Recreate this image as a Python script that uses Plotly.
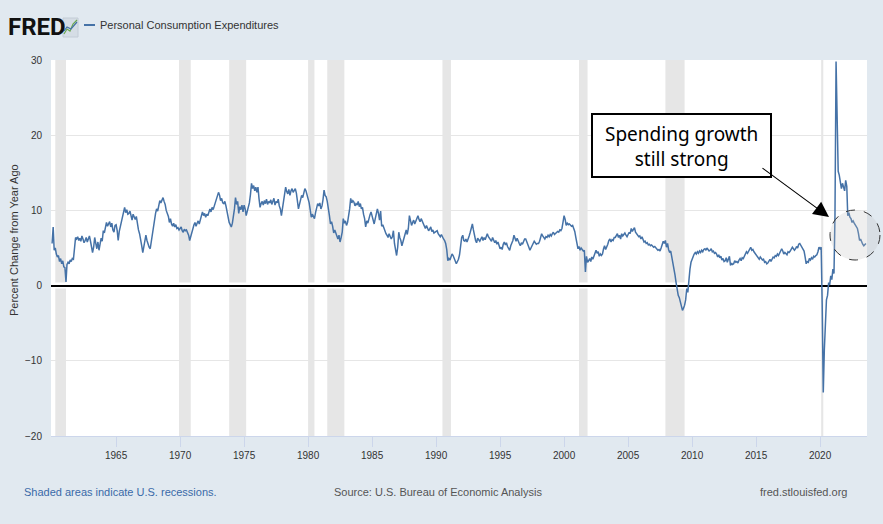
import pandas as pd
import plotly.graph_objects as go

# PCE, percent change from year ago, monthly
pce_1960s = [
    5.6, 7.8, 4.7, 5.0, 4.2, 3.8, 4.0, 3.2, 3.6, 2.9, 3.3, 2.5,
    2.4, 0.5, 2.8, 3.1, 2.9, 3.4, 3.2, 3.6, 3.5, 4.8, 6.4, 6.2,
    6.5, 6.0, 6.3, 5.9, 6.6, 6.2, 5.7, 6.0, 6.4, 5.8, 6.1, 6.6,
    5.9, 5.2, 4.4, 5.1, 6.4, 5.6, 4.9, 5.8, 4.7, 5.5, 6.3, 5.9,
    7.3, 7.0, 7.6, 8.4, 7.9, 8.2, 8.5, 7.8, 8.3, 7.4, 7.1, 8.0,
    8.1, 7.3, 6.0, 7.2, 7.8, 8.6, 8.9, 9.4, 10.4, 9.7, 10.1, 9.5,
    9.6, 9.9, 9.3, 8.7, 9.5, 9.0, 8.8, 9.2, 7.9, 7.4, 6.9, 6.3,
    5.3, 4.4, 5.0, 5.6, 6.7, 6.0, 5.4, 5.1, 4.9, 5.8, 7.0, 8.2,
    9.1, 9.6, 10.2, 9.9, 10.6, 11.3, 11.0, 11.5, 11.7, 11.2, 10.8, 10.0,
    9.7, 9.2, 8.4, 8.9, 8.2, 7.9, 8.3, 7.8, 8.1, 7.6, 7.7, 7.4,
]
pce_1970s = [
    7.6, 7.8, 7.3, 7.1, 7.5, 7.3, 7.4, 7.0, 6.7, 6.0, 6.6, 7.2,
    7.8, 8.1, 8.4, 7.9, 8.3, 8.6, 8.2, 8.9, 9.4, 9.8, 9.3, 9.6,
    9.1, 9.5, 9.3, 9.9, 10.2, 9.8, 10.4, 10.1, 10.6, 10.9, 11.4, 11.8,
    12.4, 12.0, 11.3, 11.6, 11.0, 10.9, 11.2, 10.6, 9.8, 9.0, 8.4, 8.1,
    7.8, 8.3, 9.1, 10.2, 11.7, 10.8, 11.2, 9.6, 10.5, 10.1, 10.7, 9.8,
    10.7, 10.2, 9.3, 9.8, 10.4, 11.0, 12.1, 13.6, 12.9, 13.3, 12.6, 13.1,
    12.4, 13.1, 11.6, 10.4, 10.9, 11.2, 10.7, 11.3, 10.9, 11.5, 10.8, 11.2,
    11.0, 11.4, 10.8, 11.1, 11.6, 10.7, 11.2, 11.0, 11.5, 10.6, 10.2, 9.3,
    10.4, 11.2, 12.3, 13.1, 12.5, 12.2, 12.8, 12.0, 12.6, 12.9, 12.4, 12.7,
    12.9, 12.3, 11.2, 10.2, 10.8, 11.5, 12.0, 11.7, 12.4, 12.9, 12.6, 12.1,
]
pce_1980s = [
    11.3, 11.0, 10.1, 9.1, 9.5, 9.2, 8.9, 9.7, 10.4, 10.9, 10.6, 11.0,
    10.2, 10.6, 11.4, 12.7, 12.0, 11.8, 11.2, 10.4, 9.3, 8.2, 8.5, 7.9,
    7.0, 7.4, 6.9, 6.5, 6.2, 6.7, 5.8, 6.4, 7.1, 8.9, 8.3, 8.6,
    8.0, 8.4, 9.1, 10.2, 11.6, 11.0, 11.3, 11.1, 10.6, 10.9, 10.7, 11.2,
    10.5, 10.9, 10.2, 10.4, 9.5, 8.9, 7.8, 8.6, 8.3, 9.1, 9.4, 9.8,
    9.3, 8.6, 8.2, 8.9, 9.5, 10.2, 9.6, 8.7, 9.9, 7.9, 8.1, 7.6,
    7.4, 6.9, 6.7, 6.4, 6.9, 6.6, 6.2, 6.5, 7.3, 5.6, 4.8, 4.0,
    5.1, 7.1, 6.4, 6.0, 5.3, 5.8, 6.2, 6.9, 7.4, 6.8, 7.6, 9.3,
    8.8, 8.0, 8.4, 8.7, 8.2, 8.6, 8.9, 9.3, 8.8, 8.5, 8.9, 8.6,
    8.2, 7.9, 7.6, 8.0, 7.7, 7.3, 7.5, 7.8, 7.2, 7.4, 7.0, 7.1,
]
pce_1990s = [
    7.1, 7.3, 6.9, 6.7, 6.5, 6.8, 6.4, 6.2, 6.0, 5.6, 4.8, 3.3,
    3.6, 3.4, 3.8, 4.2, 4.0, 3.7, 3.4, 2.9, 3.2, 3.5, 4.1, 5.2,
    6.4, 6.7, 6.0, 5.9, 6.2, 5.8, 6.4, 6.6, 7.1, 7.5, 8.2, 7.4,
    6.4, 6.0, 5.7, 6.3, 6.1, 5.9, 6.2, 6.5, 6.0, 6.4, 6.1, 6.7,
    6.9, 6.5, 6.3, 6.0, 5.9, 6.4, 6.1, 5.7, 6.0, 5.5, 5.8, 5.2,
    4.9, 5.1, 4.8, 5.5, 5.8, 5.4, 5.7, 5.2, 5.0, 4.7, 5.3, 5.6,
    6.0, 6.7, 6.2, 5.9, 6.3, 5.8, 5.6, 5.3, 5.7, 5.5, 6.0, 6.2,
    6.2, 5.9, 5.6, 5.1, 4.7, 5.0, 5.4, 5.6, 5.9, 5.7, 5.5, 5.6,
    5.6, 5.9, 6.3, 6.9, 6.6, 6.4, 6.2, 6.5, 6.4, 6.7, 6.5, 6.8,
    6.6, 6.9, 7.1, 6.8, 6.9, 7.0, 7.2, 7.1, 7.4, 7.3, 7.6, 8.4,
]
pce_2000s = [
    9.3, 8.8, 8.0, 8.3, 8.1, 8.2, 8.0, 7.9, 8.0, 7.6, 7.2, 6.4,
    5.8, 4.9, 5.2, 4.7, 5.0, 4.8, 4.6, 4.7, 1.8, 3.9, 3.1, 3.3,
    3.6, 3.2, 3.8, 3.5, 3.9, 4.1, 4.7, 4.3, 4.5, 3.9, 4.2, 4.0,
    4.2, 4.9, 5.3, 4.8, 5.1, 5.5, 6.0, 6.2, 5.8, 6.1, 6.0, 6.4,
    6.4, 6.6, 6.9, 6.4, 6.7, 6.2, 6.9, 6.6, 6.8, 7.0, 6.7, 6.5,
    6.8, 7.1, 6.9, 7.6, 7.2, 7.4, 7.7, 7.1, 6.9, 6.7, 6.5, 6.6,
    6.2, 6.5, 6.0, 5.8, 5.9, 5.6, 5.7, 5.4, 5.5, 5.3, 5.4, 5.3,
    5.1, 5.2, 5.0, 4.9, 4.7, 4.8, 4.6, 5.0, 5.4, 5.9, 5.6, 6.0,
    5.1, 5.6, 4.8, 4.4, 4.6, 3.9, 3.1, 2.2, 1.4, 0.4, -0.5, -1.3,
    -1.6, -2.3, -2.9, -3.3, -3.0, -2.6, -1.9, -0.4, -0.9, 1.2, 2.2, 3.1,
]
pce_2010s = [
    3.6, 3.9, 4.2, 4.4, 4.2, 4.5, 4.3, 4.6, 4.4, 4.7, 4.5, 4.8,
    4.9, 4.7, 5.0, 4.8, 4.6, 4.7, 4.9, 4.5, 4.6, 4.3, 4.4, 4.2,
    3.8, 4.1, 3.7, 3.9, 3.4, 3.6, 3.2, 3.3, 3.7, 3.1, 3.4, 3.9,
    2.7, 3.0, 2.8, 2.9, 3.3, 3.1, 3.2, 3.0, 3.4, 3.6, 3.3, 3.7,
    3.6, 3.9, 4.2, 4.5, 4.3, 4.6, 4.9, 5.1, 4.7, 4.8, 4.5, 4.3,
    4.2, 3.9, 3.7, 3.5, 3.8, 3.6, 3.4, 3.5, 3.1, 3.2, 2.9, 3.0,
    3.3, 3.5, 3.2, 3.6, 3.8, 3.7, 4.0, 3.9, 4.2, 4.0, 4.3, 4.4,
    4.9, 4.6, 4.2, 4.4, 4.3, 4.1, 4.5, 4.4, 4.6, 4.8, 5.1, 4.9,
    4.7, 4.9, 5.2, 5.0, 5.5, 5.6, 5.3, 5.0, 4.7, 4.6, 3.8, 2.9,
    3.2, 3.1, 3.6, 3.4, 3.7, 3.5, 3.9, 3.8, 4.0, 4.1, 4.5, 5.1,
]
pce_2020s = [
    4.9, 5.1, -2.4, -14.2, -8.6, -4.6, -1.9, -1.3, 0.4, 0.1, 1.3, 0.8,
    2.2, 1.6, 9.3, 29.8, 21.5, 15.2, 14.7, 13.4, 12.9, 13.6, 13.2, 12.6,
    14.0, 13.2, 9.3, 9.7, 9.1, 8.9, 8.4, 8.6, 8.3, 8.0, 7.8, 7.6,
    6.9, 6.0, 6.2, 5.7, 5.5, 5.3, 5.4, 5.6,
]

rec_start = ["1960-04-01", "1969-12-01", "1973-11-01", "1980-01-01", "1981-07-01",
             "1990-07-01", "2001-03-01", "2007-12-01", "2020-02-01"]
rec_end = ["1961-02-01", "1970-11-01", "1975-03-01", "1980-07-01", "1982-11-01",
           "1991-03-01", "2001-11-01", "2009-06-01", "2020-04-01"]

tick_years = [1965, 1970, 1975, 1980, 1985, 1990, 1995, 2000, 2005, 2010, 2015, 2020]

pce = pce_1960s + pce_1970s + pce_1980s + pce_1990s + pce_2000s + pce_2010s + pce_2020s
dates = pd.date_range("1960-01-01", periods=len(pce), freq="MS")

W, H = 883, 524
L, R, T, B = 51, 16, 60, 88


# pixel -> paper helpers
def px(x):
    return (x - L) / (W - L - R)


def py(y):
    return (H - B - y) / (H - T - B)


sans = "Liberation Sans, Arial, sans-serif"

fig = go.Figure()
fig.add_trace(go.Scatter(x=dates, y=pce, mode="lines",
                         line=dict(color="#4572a7", width=1.5),
                         hoverinfo="x+y", showlegend=False))

shapes = []
for s, e in zip(rec_start, rec_end):
    shapes.append(dict(type="rect", xref="x", yref="paper", x0=s, x1=e, y0=0, y1=1,
                       fillcolor="#e6e6e6", line=dict(width=0), layer="below"))
# white halo behind zero line
shapes.append(dict(type="line", xref="paper", yref="y", x0=0, x1=1, y0=0, y1=0,
                   line=dict(color="white", width=6), layer="below"))

# callout box and circle
shapes.append(dict(type="rect", xref="paper", yref="paper",
                   x0=px(592), x1=px(771), y0=py(177), y1=py(114),
                   fillcolor="white", line=dict(color="black", width=2)))
shapes.append(dict(type="circle", xref="paper", yref="paper",
                   x0=px(830), x1=px(880), y0=py(260), y1=py(210),
                   fillcolor="rgba(190,190,190,0.25)",
                   line=dict(color="#333333", width=1, dash="dash")))

# header: logo icon + legend swatch
shapes.append(dict(type="rect", xref="paper", yref="paper",
                   x0=px(63), x1=px(78), y0=py(37), y1=py(18),
                   fillcolor="#d5dde5", line=dict(color="#c3ccd6", width=1)))
shapes.append(dict(type="path", xref="paper", yref="paper",
                   path="M %f,%f L %f,%f L %f,%f L %f,%f L %f,%f" % (
                       px(64), py(34), px(67), py(29), px(70), py(31), px(73), py(24), px(77), py(20)),
                   line=dict(color="#6aa84f", width=1.2)))
shapes.append(dict(type="path", xref="paper", yref="paper",
                   path="M %f,%f L %f,%f L %f,%f L %f,%f" % (
                       px(64), py(31), px(67), py(27), px(71), py(29), px(77), py(22)),
                   line=dict(color="#4572a7", width=1.2)))
shapes.append(dict(type="line", xref="paper", yref="paper",
                   x0=px(84), x1=px(95), y0=py(25), y1=py(25),
                   line=dict(color="#4572a7", width=2)))

annotations = [
    dict(text="<b>FRED</b>", x=px(6), y=py(27), xref="paper", yref="paper",
         xanchor="left", yanchor="middle", showarrow=False,
         font=dict(family="Roboto, sans-serif", size=24, color="#111111")),
    dict(text="Personal Consumption Expenditures", x=px(98), y=py(25),
         xref="paper", yref="paper", xanchor="left", yanchor="middle", showarrow=False,
         font=dict(family=sans, size=11, color="#333333")),
    dict(text="Percent Change from Year Ago", x=px(14), y=py(240),
         xref="paper", yref="paper", xanchor="center", yanchor="middle",
         textangle=-90, showarrow=False,
         font=dict(family=sans, size=11, color="#333333")),
    dict(text="Shaded areas indicate U.S. recessions.", x=px(22), y=py(492),
         xref="paper", yref="paper", xanchor="left", yanchor="middle", showarrow=False,
         font=dict(family=sans, size=11, color="#3a6aa8")),
    dict(text="Source: U.S. Bureau of Economic Analysis", x=px(438), y=py(492),
         xref="paper", yref="paper", xanchor="center", yanchor="middle", showarrow=False,
         font=dict(family=sans, size=11, color="#555555")),
    dict(text="fred.stlouisfed.org", x=px(849), y=py(492),
         xref="paper", yref="paper", xanchor="right", yanchor="middle", showarrow=False,
         font=dict(family=sans, size=11, color="#555555")),
    dict(text="Spending growth<br>still strong", x=px(681), y=py(146),
         xref="paper", yref="paper", xanchor="center", yanchor="middle", showarrow=False,
         font=dict(family="Noto Sans, sans-serif", size=19, color="black")),
    dict(text="", x=px(829), y=py(217), xref="paper", yref="paper",
         ax=761 - 829, ay=167 - 217, axref="pixel", ayref="pixel",
         showarrow=True, arrowhead=2, arrowsize=2.8, arrowwidth=1.1, arrowcolor="black"),
]

fig.update_layout(
    width=W, height=H,
    margin=dict(l=L, r=R, t=T, b=B),
    paper_bgcolor="#e1e9f0", plot_bgcolor="white",
    shapes=shapes, annotations=annotations,
    showlegend=False,
    xaxis=dict(
        type="date", range=["1959-12-01", "2023-09-01"],
        tickvals=["%d-01-01" % y for y in tick_years],
        ticktext=[str(y) for y in tick_years],
        showgrid=False, showline=True, linecolor="#ccd6eb", linewidth=1,
        ticks="outside", ticklen=10, tickcolor="#ccd6eb",
        tickfont=dict(family=sans, size=10, color="#333333"),
        zeroline=False,
    ),
    yaxis=dict(
        range=[-20, 30], dtick=10, tick0=0,
        showgrid=True, gridcolor="#e6e6e6", gridwidth=1,
        zeroline=True, zerolinecolor="black", zerolinewidth=2,
        ticks="outside", ticklen=6, tickcolor="rgba(0,0,0,0)",
        tickfont=dict(family=sans, size=10, color="#333333"),
        showline=False,
    ),
)

# the page's default 8px body margin would shift the figure
fig.write_html("out.html", config={"displayModeBar": False},
               post_script="document.body.style.margin='0px';")
